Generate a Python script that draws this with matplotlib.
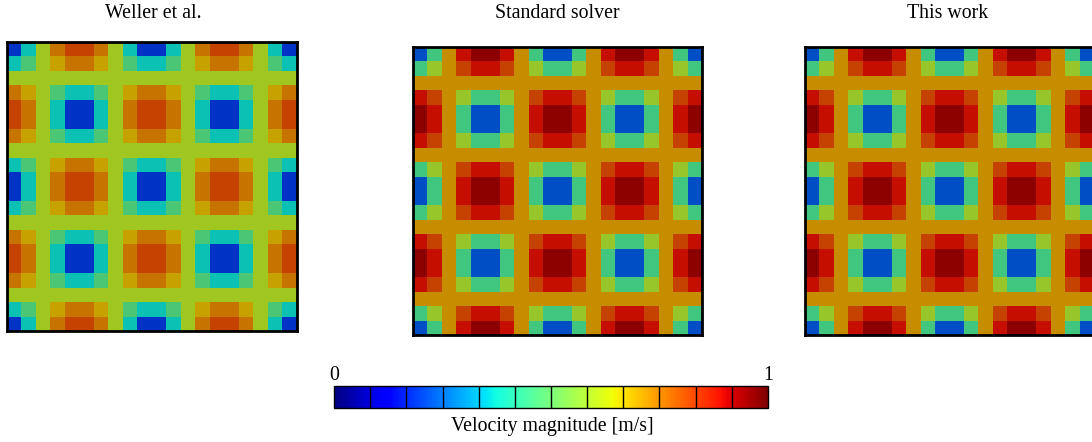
import numpy as np
import matplotlib
matplotlib.use("Agg")
import matplotlib.pyplot as plt
from matplotlib.colors import ListedColormap, Normalize
from matplotlib.cm import ScalarMappable

plt.rcParams['font.family'] = ['Liberation Serif', 'DejaVu Serif']

# Cell class grid (20x20): 0 low-vortex centre, 1 low edge, 2 low corner,
# 3 stripe, 4 high corner, 5 high edge, 6 high centre
R0 = [0, 1, 3, 5, 6, 6, 5, 3, 1, 0, 0, 1, 3, 5, 6, 6, 5, 3, 1, 0]
R1 = [1, 2, 3, 4, 5, 5, 4, 3, 2, 1, 1, 2, 3, 4, 5, 5, 4, 3, 2, 1]
RS = [3] * 20
R3 = [5, 4, 3, 2, 1, 1, 2, 3, 4, 5, 5, 4, 3, 2, 1, 1, 2, 3, 4, 5]
R4 = [6, 5, 3, 1, 0, 0, 1, 3, 5, 6, 6, 5, 3, 1, 0, 0, 1, 3, 5, 6]
cell_class = [R0, R1, RS, R3, R4, R4, R3, RS, R1, R0,
              R0, R1, RS, R3, R4, R4, R3, RS, R1, R0]

# Velocity magnitude per cell class
weller_levels = [0.19, 0.37, 0.465, 0.60, 0.69, 0.75, 0.82]
standard_levels = [0.225, 0.45, 0.585, 0.716, 0.82, 0.89, 0.95]
thiswork_levels = [0.225, 0.45, 0.585, 0.716, 0.82, 0.89, 0.95]

titles = ["Weller et al.", "Standard solver", "This work"]
levels = [weller_levels, standard_levels, thiswork_levels]

W, H = 1092, 442
fig = plt.figure(figsize=(W / 100, H / 100), dpi=100)

def px_axes(x0, y0, x1, y1):
    return fig.add_axes([x0 / W, 1 - y1 / H, (x1 - x0) / W, (y1 - y0) / H])

jet = plt.get_cmap('jet')
shaded = ListedColormap(jet(np.linspace(0, 1, 256))[:, :3] * 0.78)
norm = Normalize(0, 1)
FS = 14.3

boxes = [(7, 42, 297, 331), (413, 47, 702, 335), (805, 47, 1094, 335)]
title_x = [153, 557, 948]
cls = np.array(cell_class)
for box, lv, t, tx in zip(boxes, levels, titles, title_x):
    ax = px_axes(*box)
    vals = np.array(lv)[cls]
    ax.imshow(vals, cmap=shaded, norm=norm, interpolation='nearest',
              aspect='auto', origin='upper')
    ax.set_xticks([])
    ax.set_yticks([])
    for s in ax.spines.values():
        s.set_linewidth(2.0)
        s.set_color('black')
    fig.text(tx / W, 1 - 14 / H, t, ha='center', va='center', fontsize=FS)

# Colorbar
cax = px_axes(334, 386, 768, 408)
cb = fig.colorbar(ScalarMappable(norm=norm, cmap=jet), cax=cax,
                  orientation='horizontal')
cb.set_ticks([])
cb.outline.set_linewidth(1.0)
for k in range(1, 12):
    cax.axvline(k / 12, color='black', lw=1.0)
fig.text(334 / W, 1 - 375 / H, "0", ha='center', va='center', fontsize=FS)
fig.text(768 / W, 1 - 375 / H, "1", ha='center', va='center', fontsize=FS)
fig.text(552 / W, 1 - 427 / H, "Velocity magnitude [m/s]", ha='center',
         va='center', fontsize=FS)

fig.savefig("out.png", dpi=100)
